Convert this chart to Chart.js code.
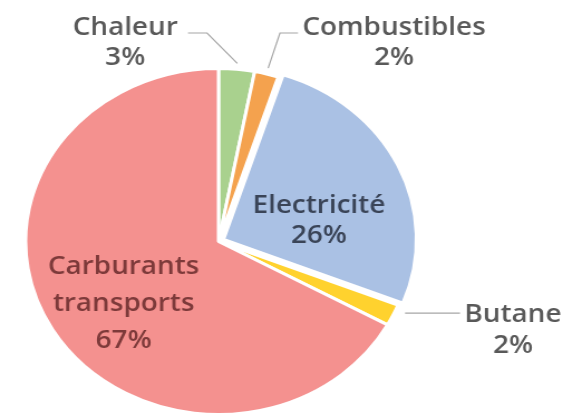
<!DOCTYPE html>
<html>
<head>
<meta charset="utf-8">
<script src="https://cdn.jsdelivr.net/npm/chart.js@4/dist/chart.umd.min.js"></script>
<style>
  html, body { margin: 0; padding: 0; background: #ffffff; overflow: hidden; }
  /* the pie is drawn as a horizontally widened ellipse */
  #wrap { width: 505px; height: 419px; transform: scaleX(1.1149); transform-origin: 0 0; }
</style>
</head>
<body>
<div id="wrap"><canvas id="c" width="505" height="419"></canvas></div>
<script>
// Energy consumption split (percent)
const categories = ['Chaleur', 'Combustibles', 'Electricité', 'Butane', 'Carburants transports'];
const shares = [3, 2, 26, 2, 67];
const sliceColors = ['#A9D18E', '#F4A24E', '#AAC1E4', '#FFD22E', '#F4918F'];

// Label placement for each slice (canvas units before the horizontal widening).
// Outside labels: leader starts on the slice rim at fraction `at` of its angle span,
// then follows `path`. Inside labels sit at fraction `at` of the span, `depth` of the radius.
const labelLayout = [
  { outside: true, at: 0.5, gap: 6, path: [[185.7, 33], [168.6, 33]], x: 112.3, baselines: [35, 65], color: '#595959' },
  { outside: true, at: 0.5, gap: 6, path: [[251.1, 33], [267.3, 33]], x: 353.4, baselines: [35, 65], color: '#595959' },
  { outside: false, at: 0.626, depth: 0.508, lineGap: 30, color: '#3A4457' },
  { outside: true, at: 0.22, gap: 9, path: [[412.6, null]], x: 460.1, baselines: [322, 353], color: '#595959' },
  { outside: false, at: 0.481, depth: 0.602, lineGap: 37, color: '#7D3A3A' }
];

const FONT = '600 25px "Open Sans"';
const CAP = 18;

const sliceLabels = {
  id: 'sliceLabels',
  afterDatasetsDraw(chart) {
    const ctx = chart.ctx;
    const meta = chart.getDatasetMeta(0);
    const total = shares.reduce((a, b) => a + b, 0);
    ctx.save();
    ctx.font = FONT;
    ctx.textAlign = 'center';
    ctx.textBaseline = 'alphabetic';
    meta.data.forEach((arc, i) => {
      const p = arc.getProps(['x', 'y', 'startAngle', 'endAngle', 'outerRadius', 'circumference'], true);
      const off = (arc.options.offset || 0) / 4;
      const mid = (p.startAngle + p.endAngle) / 2;
      const shift = off * (1 + (1 - Math.sin(Math.min(Math.PI, p.circumference))));
      const cx = p.x + Math.cos(mid) * shift;
      const cy = p.y + Math.sin(mid) * shift;
      const L = labelLayout[i];
      const ang = p.startAngle + L.at * (p.endAngle - p.startAngle);
      const lines = categories[i].split(' ').concat(Math.round(shares[i] / total * 100) + '%');
      ctx.fillStyle = L.color;
      if (L.outside) {
        const r = p.outerRadius + L.gap;
        const ax = cx + Math.cos(ang) * r;
        const ay = cy + Math.sin(ang) * r;
        ctx.beginPath();
        ctx.strokeStyle = '#A6A6A6';
        ctx.lineWidth = 1.2;
        ctx.moveTo(ax, ay);
        L.path.forEach(pt => ctx.lineTo(pt[0], pt[1] === null ? ay : pt[1]));
        ctx.stroke();
        lines.forEach((t, k) => ctx.fillText(t, L.x, L.baselines[k]));
      } else {
        const r = p.outerRadius * L.depth;
        const ax = cx + Math.cos(ang) * r;
        const ay = cy + Math.sin(ang) * r;
        const n = lines.length;
        lines.forEach((t, k) => {
          const capMid = ay + (k - (n - 1) / 2) * L.lineGap;
          ctx.fillText(t, ax, capMid + CAP / 2);
        });
      }
    });
    ctx.restore();
  }
};

new Chart(document.getElementById('c'), {
  type: 'pie',
  data: {
    labels: categories,
    datasets: [{
      data: shares,
      backgroundColor: sliceColors,
      borderColor: '#ffffff',
      borderWidth: 3,
      offset: [0, 0, 20, 0, 0],
      radius: 173,
      clip: false
    }]
  },
  options: {
    responsive: false,
    animation: false,
    devicePixelRatio: 1,
    layout: { padding: { left: 0, right: 113, top: 64, bottom: 0 } },
    plugins: {
      legend: { display: false },
      tooltip: { enabled: false }
    }
  },
  plugins: [sliceLabels]
});
</script>
</body>
</html>
